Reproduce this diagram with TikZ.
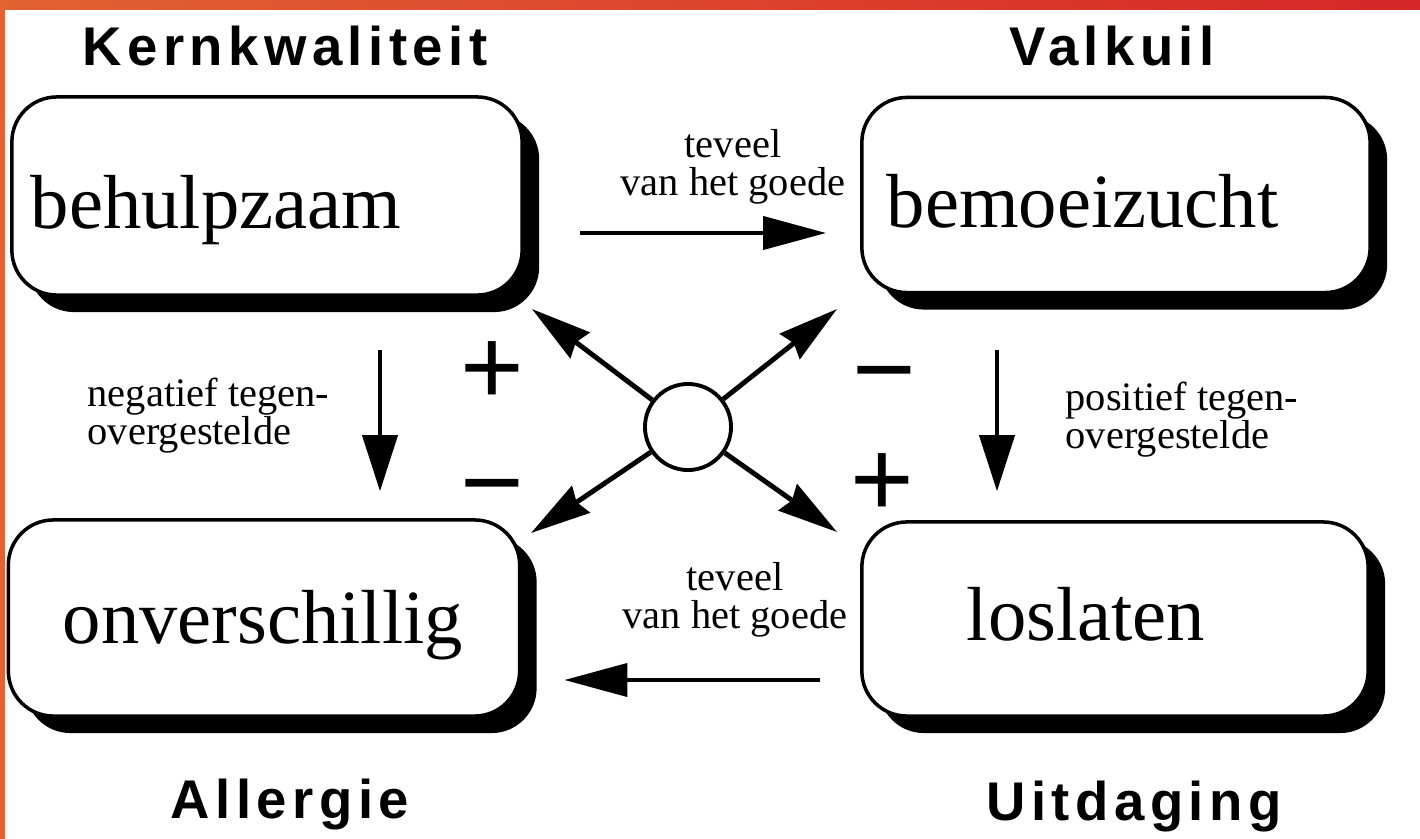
\documentclass[tikz,border=0pt]{standalone}
\usepackage{fontspec}
\setmainfont{Liberation Serif}
\newfontfamily\kopfont{Liberation Sans}[LetterSpace=10]
\newfontfamily\tekenfont{Liberation Sans}
\usetikzlibrary{arrows.meta,calc,shadows}
\definecolor{randoranje}{RGB}{226,98,50}
\definecolor{randrood}{RGB}{214,38,40}

\tikzset{
  kwadrant/.style={draw, line width=1pt, fill=white, rounded corners=0.45cm,
    drop shadow={shadow xshift=0.17cm, shadow yshift=-0.17cm, fill=black, opacity=1}},
  woord/.style={anchor=base west, inner sep=0pt, font=\fontsize{21.8}{26}\selectfont},
  kop/.style={anchor=base, inner sep=0pt, font=\kopfont\bfseries\fontsize{15.5}{18}\selectfont},
  uitleg/.style={inner sep=0pt, font=\fontsize{11.5}{10.8}\selectfont},
  teken/.style={anchor=base, inner sep=0pt, font=\tekenfont\fontsize{31}{31}\selectfont},
  pijl/.style={line width=1.15pt, -{Triangle[length=0.63cm,width=0.33cm]}},
  vpijl/.style={line width=1.15pt, -{Triangle[length=0.56cm,width=0.35cm]}},
  spaak/.style={line width=1.4pt, -{Stealth[length=0.6cm,width=0.32cm,inset=0.05cm]}},
}

\begin{document}
\begin{tikzpicture}[x=0.01cm, y=-0.01cm]
    \useasboundingbox (0,0) rectangle (1420,839);
    \fill[white] (0,0) rectangle (1420,839);
    \shade[left color=randoranje, right color=randrood] (0,0) rectangle (1420,9);
    \fill[randoranje] (0,0) rectangle (5,839);

    \node[kwadrant, minimum width=5.1cm, minimum height=1.98cm] (kern) at (267,196) {};
    \node[kwadrant, minimum width=5.08cm, minimum height=1.95cm] (valkuil) at (1116,195) {};
    \node[kwadrant, minimum width=5.11cm, minimum height=1.96cm] (allergie) at (264,618) {};
    \node[kwadrant, minimum width=5.06cm, minimum height=1.94cm] (uitdaging) at (1115,619) {};

    \node[woord] (kernwoord) at (30,228) {behulpzaam};
    \node[woord] (valkuilwoord) at (886,227) {bemoeizucht};
    \node[woord] (allergiewoord) at (62,643) {onverschillig};
    \node[woord] (uitdagingwoord) at (966,640) {loslaten};

    \node[kop] (kernkop) at (285,65) {Kernkwaliteit};
    \node[kop] (valkuilkop) at (1112,65) {Valkuil};
    \node[kop] (allergiekop) at (290,818) {Allergie};
    \node[kop] (uitdagingkop) at (1134,820) {Uitdaging};

    \draw[pijl] ($(kern.east)+(56,37)$) -- ($(valkuil.west)+(-34,38)$);
    \draw[pijl] ($(uitdaging.west)+(-40,61)$) -- ($(allergie.east)+(43,62)$);
    \draw[vpijl] ($(kern.south)+(113,53)$) -- ($(allergie.north)+(116,-27)$);
    \draw[vpijl] ($(valkuil.south)+(-119,56)$) -- ($(uitdaging.north)+(-118,-29)$);

    \node[uitleg, align=center] (bovenlabel) at (733,167) {teveel\\van het goede};
    \node[uitleg, align=center] (onderlabel) at (735,600) {teveel\\van het goede};
    \node[uitleg, align=left, anchor=west] (neglabel) at (87,416) {negatief tegen-\\overgestelde};
    \node[uitleg, align=left, anchor=west] (poslabel) at (1065,420) {positief tegen-\\overgestelde};

    \node[draw, circle, line width=1.1pt, minimum size=0.86cm, inner sep=0pt] (hub) at (688,427) {};
    \coordinate (nw) at (532,309);
    \coordinate (ne) at (837,309);
    \coordinate (sw) at (531,533);
    \coordinate (se) at (837,532);
    \draw[spaak] (hub) -- (nw);
    \draw[spaak] (hub) -- (ne);
    \draw[spaak] (hub) -- (sw);
    \draw[spaak] (hub) -- (se);

    \node[teken] (plusboven) at (492,404) {+};
    \node[teken] (minonder) at (492,519) {−};
    \node[teken] (minboven) at (884,406) {−};
    \node[teken] (plusonder) at (882,516) {+};
\end{tikzpicture}
\end{document}
